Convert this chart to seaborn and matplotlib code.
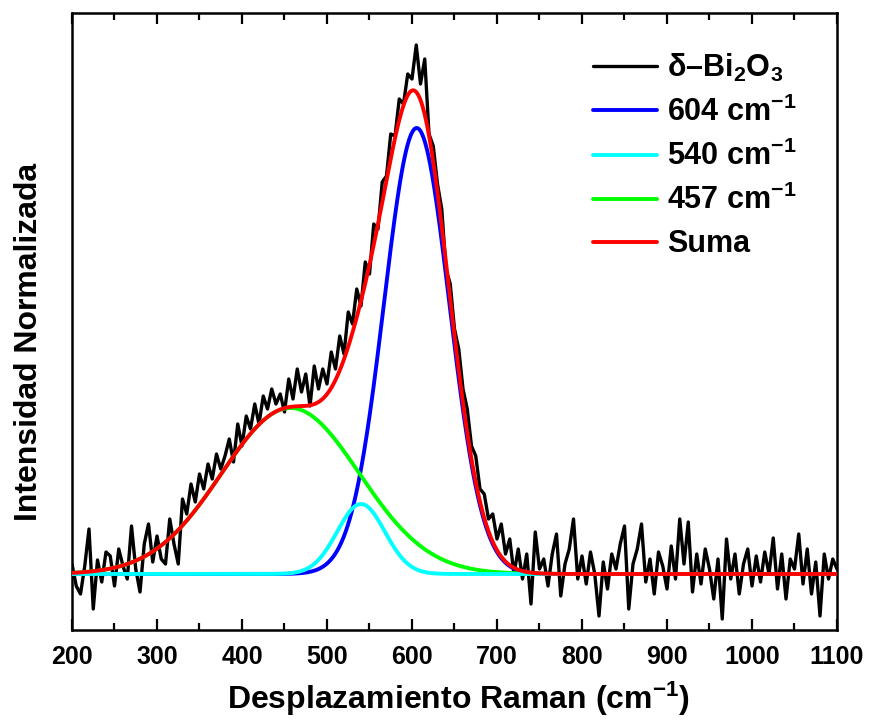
import numpy as np
import pandas as pd
import matplotlib
matplotlib.use("Agg")
import matplotlib.pyplot as plt
from matplotlib.ticker import MultipleLocator
import seaborn as sns

# ---------------- data ----------------
shift_start, shift_stop, shift_step = 200, 1100, 5
raw_intensity = [
    10, -12, -20, 8, 45, -35, 14, -8, 22, 18,
    -12, 25, 8, -5, 48, 5, -18, 30, 50, 12,
    38, 15, 10, 55, 30, 10, 75, 60, 90, 72,
    100, 85, 110, 95, 120, 105, 118, 135, 112, 150,
    128, 158, 145, 170, 150, 178, 165, 185, 170, 180,
    162, 195, 175, 205, 182, 200, 168, 208, 185, 205,
    190, 222, 205, 238, 220, 262, 250, 285, 268, 312,
    300, 350, 345, 392, 398, 440, 438, 475, 470, 500,
    495, 529, 490, 515, 440, 428, 390, 365, 305, 290,
    245, 225, 185, 165, 128, 118, 85, 80, 55, 60,
    35, 50, 20, 35, 0, 25, -5, 20, -30, 42,
    5, 15, -12, 20, 40, -22, 10, 25, 55, -5,
    18, -10, 22, 0, -42, 12, -15, 20, 5, 30,
    48, -35, 10, 25, 50, -8, 15, -20, 22, 8,
    -15, 28, -5, 55, 10, 52, -18, 20, -10, 25,
    5, -25, 15, -45, 35, -5, 20, -20, 10, 25,
    -12, 18, -8, 22, 0, 36, -15, 20, -25, 15,
    5, 40, -10, 25, -20, 12, -42, 20, -5, 15,
    5,
]
peak_labels = ["604 cm$^{-1}$", "540 cm$^{-1}$", "457 cm$^{-1}$"]
peak_centers = [605.5, 540.0, 457.0]
peak_amplitudes = [446.0, 70.0, 166.0]
peak_sigmas = [38.5, 28.0, 81.0]
peak_colors = ["#0000FF", "#00FFFF", "#00FF00"]
data_label = "δ–Bi$_2$O$_3$"
sum_label = "Suma"

# ---------------- style ----------------
sns.set_style("white")
plt.rcParams["font.family"] = ["Liberation Sans", "DejaVu Sans"]
plt.rcParams["font.weight"] = "bold"
plt.rcParams["text.color"] = "black"
plt.rcParams["axes.labelcolor"] = "black"
plt.rcParams["xtick.color"] = "black"
plt.rcParams["ytick.color"] = "black"
plt.rcParams["mathtext.fontset"] = "custom"
plt.rcParams["mathtext.rm"] = "Liberation Sans:bold"
plt.rcParams["mathtext.bf"] = "Liberation Sans:bold"
plt.rcParams["mathtext.it"] = "Liberation Sans:bold"
plt.rcParams["mathtext.default"] = "rm"

shift = np.arange(shift_start, shift_stop + 1, shift_step)
raw = np.array(raw_intensity, dtype=float)
norm = raw.max()
df_data = pd.DataFrame({"x": shift, "y": raw / norm})

xf = np.linspace(shift_start, shift_stop, 1801)
comps = []
for c, a, s in zip(peak_centers, peak_amplitudes, peak_sigmas):
    comps.append(a * np.exp(-((xf - c) ** 2) / (2 * s ** 2)) / norm)
total = np.sum(comps, axis=0)

fig = plt.figure(figsize=(8.7, 7.28), dpi=100)
ax = fig.add_axes([72 / 870, 1 - 630 / 728, 765 / 870, 617 / 728])

sns.lineplot(data=df_data, x="x", y="y", ax=ax, color="black", lw=2.4,
             label=data_label, zorder=2)
order = [0, 2, 1]
for i in order:
    sns.lineplot(x=xf, y=comps[i], ax=ax, color=peak_colors[i], lw=2.8,
                 label=peak_labels[i], zorder=3 + order.index(i))
sns.lineplot(x=xf, y=total, ax=ax, color="#FF0000", lw=2.8, label=sum_label, zorder=7)

ax.set_xlim(shift_start, shift_stop)
ax.set_ylim(-56 / norm, 561 / norm)
ax.set_yticks([])
ax.xaxis.set_major_locator(MultipleLocator(100))
ax.xaxis.set_minor_locator(MultipleLocator(50))
ax.tick_params(axis="x", which="both", direction="in", top=True, bottom=True,
               width=1.6, labelsize=18, pad=11, colors="black")
ax.tick_params(axis="x", which="major", length=8)
ax.tick_params(axis="x", which="minor", length=5)
for lab in ax.get_xticklabels():
    lab.set_fontweight("bold")
for sp in ax.spines.values():
    sp.set_linewidth(1.8)
    sp.set_color("black")

ax.set_xlabel("Desplazamiento Raman (cm$^{-1}$)", fontsize=23, fontweight="bold",
              color="black")
ax.set_ylabel("Intensidad Normalizada", fontsize=23, fontweight="bold", color="black")
ax.xaxis.set_label_coords(0.505, -0.081)
ax.yaxis.set_label_coords(-0.036, 0.467)

h, l = ax.get_legend_handles_labels()
want = [data_label] + peak_labels + [sum_label]
hm = dict(zip(l, h))
leg = ax.legend([hm[k] for k in want], want, loc="upper left",
                bbox_to_anchor=(0.681, 0.937), frameon=False, fontsize=22,
                handlelength=2.1, handletextpad=0.33, labelspacing=0.42,
                borderpad=0, borderaxespad=0)
for t in leg.get_texts():
    t.set_fontweight("bold")
    t.set_color("black")

fig.savefig("out.png", dpi=100)
